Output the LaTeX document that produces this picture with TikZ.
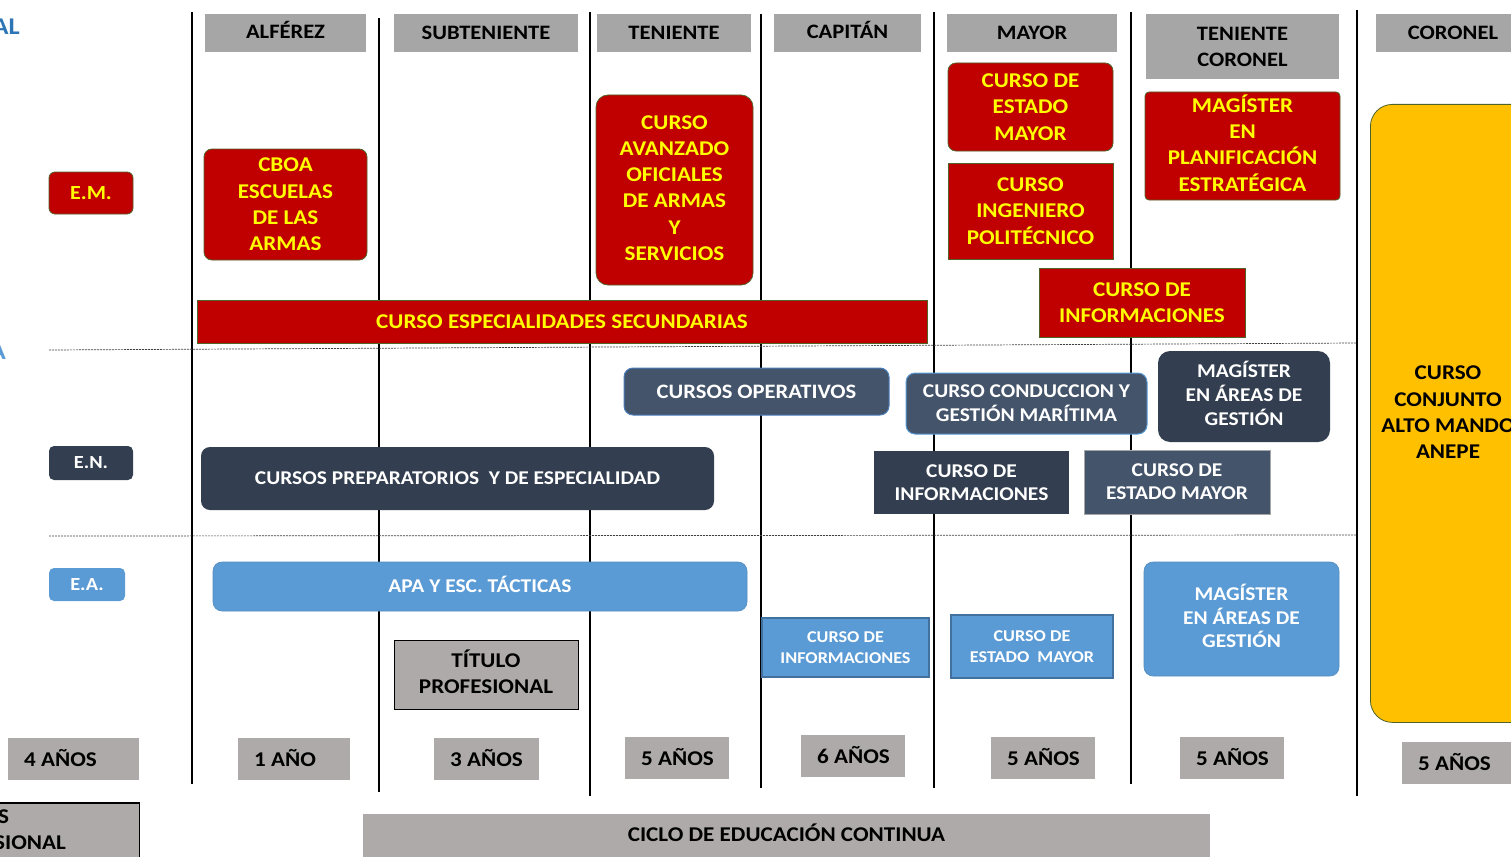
\documentclass[tikz,border=0pt]{standalone}
\usepackage{fontspec}
\setmainfont{Carlito}[FakeStretch=1.1]
\definecolor{hdrgray}{HTML}{A6A6A6}
\definecolor{yrgray}{HTML}{AEAAAA}
\definecolor{emred}{HTML}{C00000}
\definecolor{emyel}{HTML}{FFFF00}
\definecolor{emborder}{HTML}{4F6228}
\definecolor{navy}{HTML}{333F50}
\definecolor{slate}{HTML}{44546A}
\definecolor{slateborder}{HTML}{4A7EBB}
\definecolor{lblue}{HTML}{5B9BD5}
\definecolor{lblueborder}{HTML}{41719C}
\definecolor{gold}{HTML}{FFC000}
\definecolor{titleblue}{HTML}{2E75B6}
% box with centred text
\newcommand{\bx}[7]{\node[#6, minimum width={#4-#2}, minimum height={#5-#3}] (#1) at ({(#2+#4)/2},{(#3+#5)/2}) {#7};}
% box whose text is moved by dy
\newcommand{\bxs}[8]{\node[#6, minimum width={#4-#2}, minimum height={#5-#3}] (#1) at ({(#2+#4)/2},{(#3+#5)/2}) {};
  \node[#6, fill=none, draw=none, minimum width=0pt, minimum height=0pt] (#1t) at ({(#2+#4)/2},{(#3+#5)/2+#7}) {#8};}
\newcommand{\yrlabel}[6]{\node[yr, minimum width={#4-#2}, minimum height={#5-#3}] (#1) at ({(#2+#4)/2},{(#3+#5)/2}) {};
  \node[base, anchor=west, text=black] (#1t) at ({#2+16},{(#3+#5)/2-1}) {#6};}
\tikzset{
  base/.style={inner sep=0pt, align=center, font=\fontsize{21}{26.3}\selectfont\bfseries},
  hdr/.style={base, fill=hdrgray, text=black, font=\fontsize{20.5}{26}\selectfont\bfseries},
  yr/.style={base, fill=yrgray, text=black},
  redbox/.style={base, fill=emred, draw=emborder, line width=0.8pt, text=emyel},
  redround/.style={redbox, rounded corners=8pt},
  navybox/.style={base, fill=navy, text=white, font=\fontsize{19.5}{24}\selectfont\bfseries},
  navyround/.style={navybox, rounded corners=9pt},
  slatebox/.style={navybox, fill=slate, draw=slateborder, line width=1pt},
  slateround/.style={slatebox, rounded corners=9pt},
  lbluebox/.style={base, fill=lblue, draw=lblueborder, line width=1.2pt, text=white, font=\fontsize{16.5}{21}\selectfont\bfseries},
  lblueround/.style={base, fill=lblue, draw=lblue!90!black, line width=0.6pt, text=white, rounded corners=9pt, font=\fontsize{19.5}{23.5}\selectfont\bfseries},
  graybox/.style={base, fill=yrgray, draw=black, line width=1pt, text=black},
  goldbox/.style={base, fill=gold, draw=emborder, line width=0.8pt, rounded corners=22pt, text=black},
  vline/.style={line width=2.8pt, black},
  sepline/.style={line width=0.7pt, black!75, dash pattern=on 2pt off 1pt},
}
\begin{document}
\begin{tikzpicture}[x=1pt,y=-1pt]
\useasboundingbox (0,0) rectangle (1511,856);
\clip (0,0) rectangle (1511,856);
% vertical separators
\draw[vline] (192,12) -- (192,784);
\draw[vline] (379,18) -- (379,792);
\draw[vline] (590,12) -- (590,796);
\draw[vline] (761,14) -- (761,788);
\draw[vline] (934,12) -- (934,788);
\draw[vline] (1131,12) -- (1131,784);
\draw[vline] (1357,10) -- (1357,796);
% dashed separators
\coordinate (s1a) at (49,350); \coordinate (s1b) at (1357,343);
\coordinate (s2a) at (49,536); \coordinate (s2b) at (1357,535);
\draw[sepline] (s1a) -- (s1b);
\draw[sepline] (s2a) -- (s2b);
% cut-off titles at left
\node[anchor=east, inner sep=0pt, text=titleblue, font=\fontsize{24}{30}\selectfont\bfseries] (tAL) at (20,27) {AL};
\node[anchor=east, inner sep=0pt, text=lblue, font=\fontsize{24}{30}\selectfont\bfseries] (tA) at (6,352) {A};
% headers
\bxs{h1}{205}{14}{366}{52}{hdr}{-3}{ALFÉREZ}
\bx{h2}{394}{14}{578}{52}{hdr}{SUBTENIENTE}
\bx{h3}{597}{14}{751}{52}{hdr}{TENIENTE}
\bxs{h4}{774}{14}{921}{52}{hdr}{-3}{CAPITÁN}
\bx{h5}{947}{14}{1117}{52}{hdr}{MAYOR}
\bx{h6}{1146}{14}{1339}{79}{hdr}{TENIENTE\\CORONEL}
\bx{h7}{1376}{14}{1530}{52}{hdr}{CORONEL}
% level labels
\bx{em}{49}{172}{133}{214}{redround, rounded corners=6pt, font=\fontsize{20}{24}\selectfont\bfseries}{E.M.}
\bx{en}{49}{446}{133}{480}{navyround, rounded corners=5pt, font=\fontsize{18.5}{22}\selectfont\bfseries}{E.N.}
\bx{ea}{49}{568}{125}{601}{lblueround, draw=none, rounded corners=5pt, font=\fontsize{18.5}{22}\selectfont\bfseries}{E.A.}
% E.M. courses
\bx{cboa}{204}{149}{367}{260}{redround}{CBOA\\ESCUELAS\\DE LAS\\ARMAS}
\bxs{cav}{596}{95}{753}{285}{redround, rounded corners=12pt}{-2}{CURSO\\AVANZADO\\OFICIALES\\DE ARMAS\\Y\\SERVICIOS}
\bx{cem}{948}{63}{1113}{151}{redround}{CURSO DE\\ESTADO\\MAYOR}
\bx{cip}{948}{163}{1113}{259}{redbox}{CURSO\\INGENIERO\\POLITÉCNICO}
\bxs{mpe}{1145}{92}{1340}{200}{redround, rounded corners=4pt}{-3}{MAGÍSTER\\EN\\PLANIFICACIÓN\\ESTRATÉGICA}
\bx{cinf}{1039}{268}{1245}{337}{redbox}{CURSO DE\\INFORMACIONES}
\bx{ces}{197}{300}{927}{343}{redbox}{CURSO ESPECIALIDADES SECUNDARIAS}
% E.N. courses
\bx{cop}{624}{368}{889}{415}{slateround, font=\fontsize{20.5}{24}\selectfont\bfseries}{CURSOS OPERATIVOS}
\bx{ccg}{906}{373}{1147}{434}{slateround, draw=lblue}{CURSO CONDUCCION Y\\GESTIÓN MARÍTIMA}
\bxs{mag}{1158}{351}{1330}{442}{navyround, rounded corners=12pt}{-3}{MAGÍSTER\\EN ÁREAS DE\\GESTIÓN}
\bx{cpe}{201}{447}{714}{510}{navyround}{CURSOS PREPARATORIOS\ \ Y DE ESPECIALIDAD}
\bx{ninf}{874}{451}{1069}{514}{navybox, font=\fontsize{19.5}{23}\selectfont\bfseries}{CURSO DE\\INFORMACIONES}
\bx{nem}{1084}{450}{1270}{514}{slatebox, draw=black!35, line width=0.6pt, font=\fontsize{19.5}{23}\selectfont\bfseries}{CURSO DE\\ESTADO MAYOR}
% E.A. courses
\bxs{apa}{213}{562}{747}{611}{lblueround}{-2}{APA Y ESC. TÁCTICAS}
\bx{ainf}{762}{618}{929}{677}{lbluebox}{CURSO DE\\INFORMACIONES}
\bx{aem}{951}{615}{1113}{678}{lbluebox}{CURSO DE\\ESTADO\ \ MAYOR}
\bxs{amag}{1144}{562}{1339}{676}{lblueround}{-3}{MAGÍSTER\\EN ÁREAS DE\\GESTIÓN}
\bxs{tit}{394}{640}{578}{709}{graybox}{-3}{TÍTULO\\PROFESIONAL}
% gold
\node[goldbox, minimum width=220, minimum height=618, anchor=north west] (anepe) at (1370,104) {};
\node[base, anchor=north, text=black] (anepet) at (1448,366) {CURSO\\CONJUNTO\\ALTO MANDO\\ANEPE};
% years
\yrlabel{y0}{8}{738}{139}{780}{4 AÑOS}
\yrlabel{y1}{238}{738}{350}{780}{1 AÑO}
\yrlabel{y2}{434}{738}{539}{780}{3 AÑOS}
\yrlabel{y3}{625}{737}{729}{779}{5 AÑOS}
\yrlabel{y4}{801}{735}{905}{777}{6 AÑOS}
\yrlabel{y5}{991}{737}{1095}{779}{5 AÑOS}
\yrlabel{y6}{1180}{737}{1284}{779}{5 AÑOS}
\yrlabel{y7}{1402}{742}{1511}{784}{5 AÑOS}
% bottom
\bxs{ciclo}{363}{814}{1210}{870}{yr}{-9}{CICLO DE EDUCACIÓN CONTINUA}
\node[graybox, draw=black, line width=1.5pt, minimum width=240, minimum height=80, anchor=north east] (prof) at (140,802) {};
\node[base, anchor=west, text=black] (profa) at (-2,817) {S};
\node[base, anchor=west, text=black] (profb) at (-6,843) {SIONAL};
\end{tikzpicture}
\end{document}
